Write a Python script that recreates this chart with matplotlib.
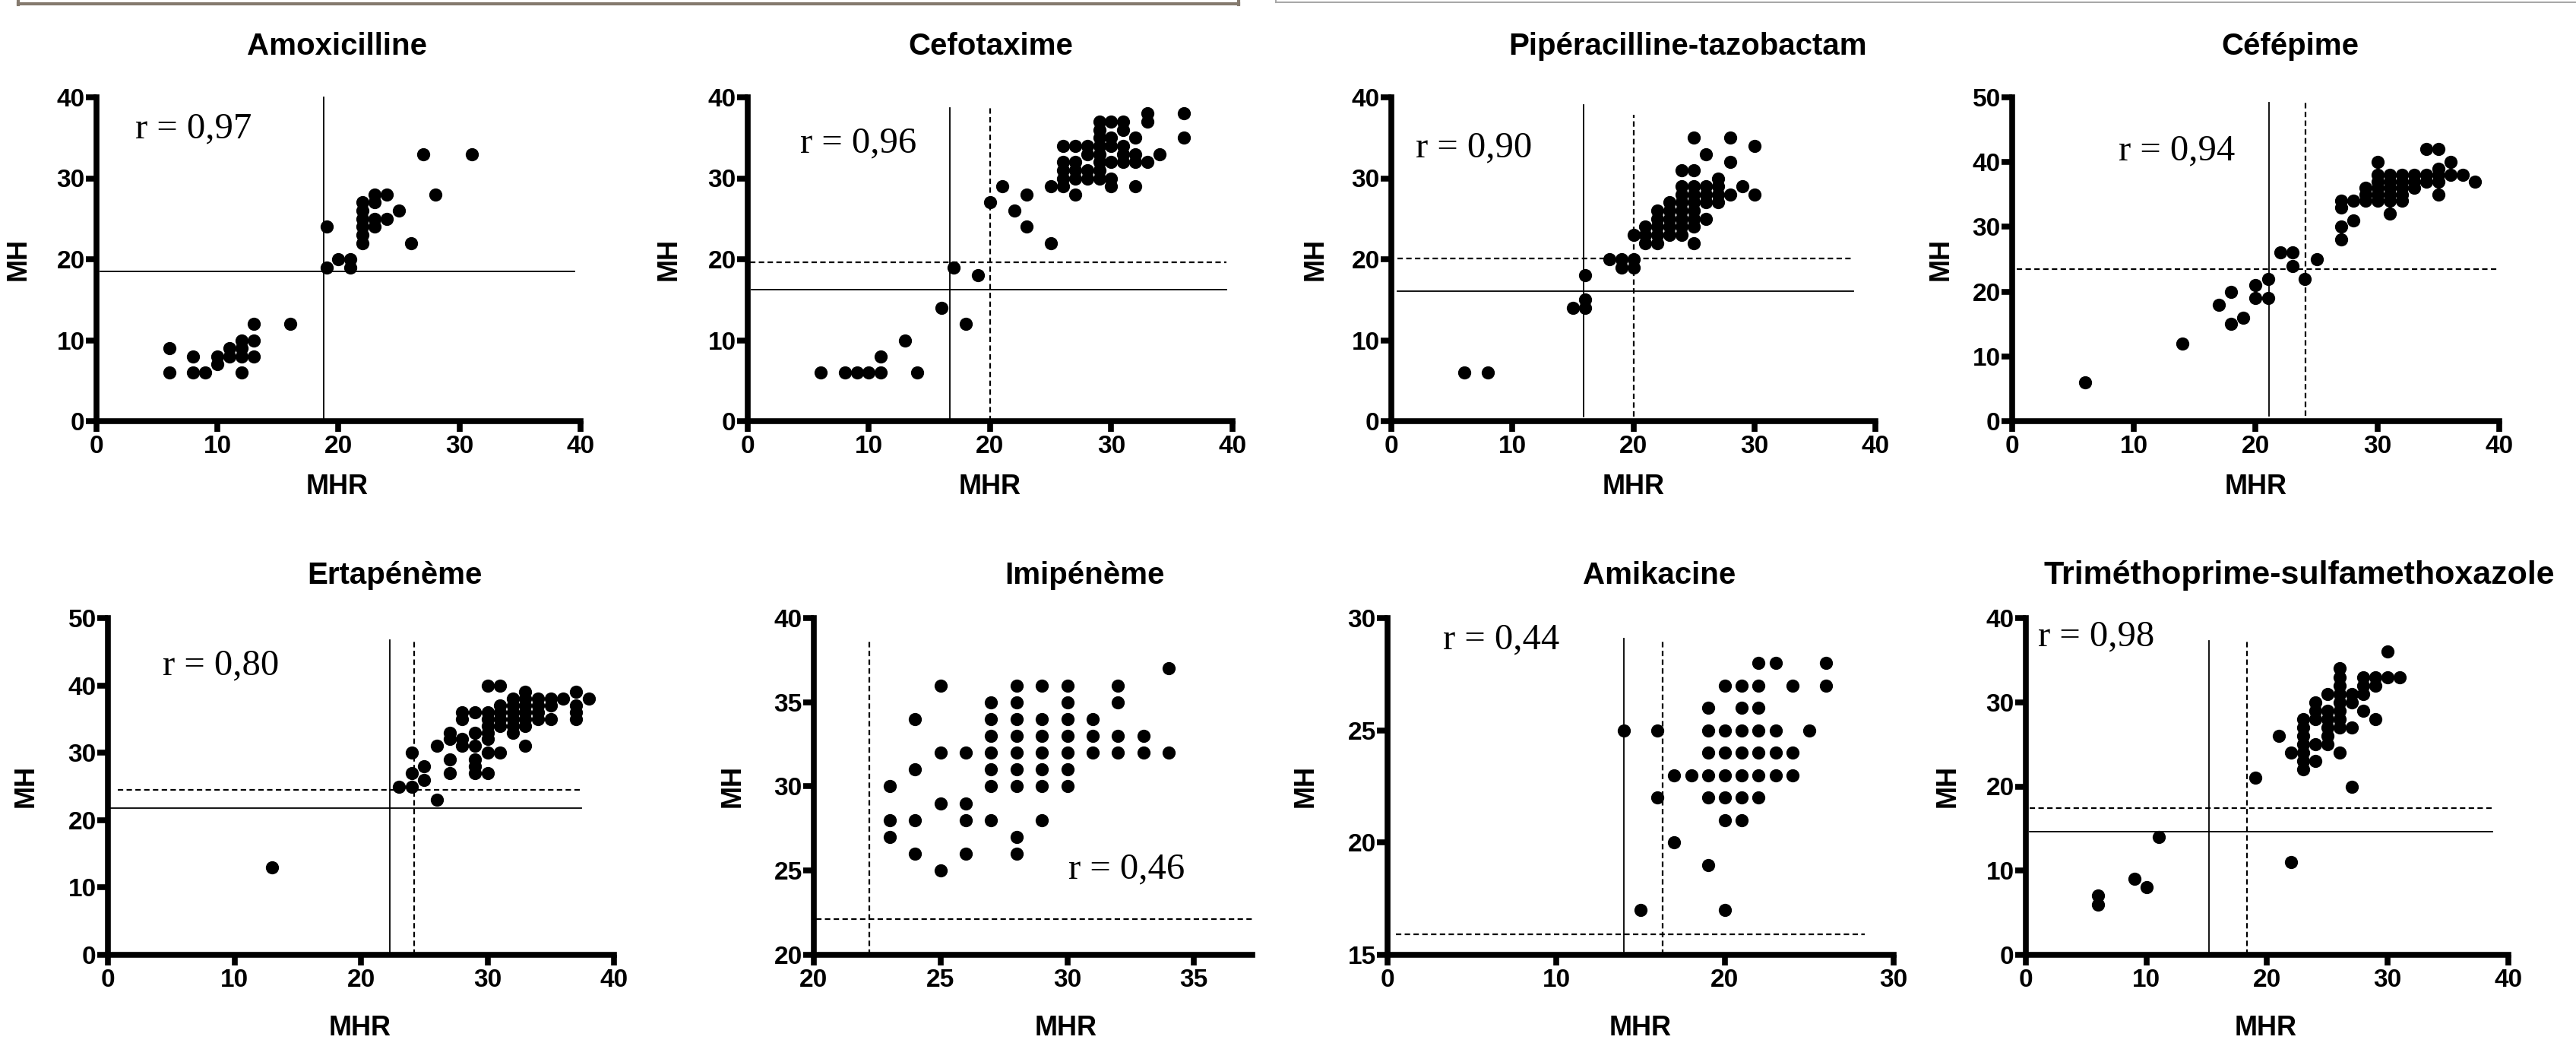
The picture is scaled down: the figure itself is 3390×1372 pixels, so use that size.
import matplotlib
matplotlib.use("Agg")
import matplotlib.pyplot as plt
from matplotlib.lines import Line2D

plt.rcParams['font.family'] = ['Liberation Sans', 'DejaVu Sans']

W, H = 3391, 1372

# ---------------- data (MHR = x, MH = y) ----------------
amox_mhr = [6, 6, 8, 8, 9, 10, 10, 11, 11, 12, 12, 12, 12, 13, 13, 13, 16, 19, 19, 20, 21, 21,
            22, 22, 22, 22, 22, 22, 23, 23, 23, 23, 24, 24, 25, 26, 27, 28, 31]
amox_mh = [9, 6, 8, 6, 6, 8, 7, 9, 8, 10, 9, 8, 6, 12, 10, 8, 12, 24, 19, 20, 20, 19,
           27, 26, 25, 24, 23, 22, 28, 27, 25, 24, 28, 25, 26, 22, 33, 28, 33]

cefo_mhr = [6, 8, 9, 10, 11, 11, 13, 14, 16, 17, 18, 19, 20, 21, 22, 23, 23, 25, 25,
            26, 26, 26, 26, 26, 27, 27, 27, 27, 27, 28, 28, 28, 28,
            29, 29, 29, 29, 29, 29, 29, 29, 30, 30, 30, 30, 30, 30,
            31, 31, 31, 31, 31, 32, 32, 32, 32, 33, 33, 33, 34, 36, 36]
cefo_mh = [6, 6, 6, 6, 6, 8, 10, 6, 14, 19, 12, 18, 27, 29, 26, 28, 24, 29, 22,
           34, 32, 31, 30, 29, 34, 32, 31, 30, 28, 34, 33, 31, 30,
           37, 36, 35, 34, 33, 32, 31, 30, 37, 35, 34, 32, 30, 29,
           37, 36, 34, 33, 32, 35, 33, 32, 29, 38, 37, 32, 33, 38, 35]

pip_mhr = [6, 8, 15, 16, 16, 16, 18, 19, 19, 20, 20, 20,
           21, 21, 21, 22, 22, 22, 22, 22, 23, 23, 23, 23, 23,
           24, 24, 24, 24, 24, 24, 24, 24, 25, 25, 25, 25, 25, 25, 25, 25, 25,
           26, 26, 26, 26, 26, 27, 27, 27, 27, 28, 28, 28, 29, 30, 30]
pip_mh = [6, 6, 14, 18, 15, 14, 20, 20, 19, 20, 19, 23,
          24, 23, 22, 26, 25, 24, 23, 22, 27, 26, 25, 24, 23,
          31, 29, 28, 27, 26, 25, 24, 23, 35, 31, 29, 28, 27, 26, 25, 24, 22,
          33, 29, 28, 27, 25, 30, 29, 28, 27, 35, 32, 28, 29, 34, 28]

cefe_mhr = [6, 14, 17, 18, 18, 19, 20, 20, 21, 21, 22, 23, 23, 24, 25,
            27, 27, 27, 27, 28, 28, 29, 29, 29, 30, 30, 30, 30, 30, 30,
            31, 31, 31, 31, 31, 31, 32, 32, 32, 32, 32, 33, 33, 33, 34, 34, 34,
            35, 35, 35, 35, 35, 36, 36, 37, 38]
cefe_mh = [6, 12, 18, 20, 15, 16, 21, 19, 22, 19, 26, 26, 24, 22, 25,
           34, 33, 30, 28, 34, 31, 36, 35, 34, 40, 38, 37, 36, 35, 34,
           38, 37, 36, 35, 34, 32, 38, 37, 36, 35, 34, 38, 37, 36, 42, 38, 37,
           42, 39, 38, 37, 35, 40, 38, 38, 37]

erta_mhr = [13, 23, 24, 24, 24, 25, 25, 26, 26, 27, 27, 27, 27, 28, 28, 28, 28,
            29, 29, 29, 29, 29, 29, 30, 30, 30, 30, 30, 30, 30, 30,
            31, 31, 31, 31, 31, 31, 32, 32, 32, 32, 32, 32,
            33, 33, 33, 33, 33, 33, 33, 34, 34, 34, 34, 35, 35, 35, 36,
            37, 37, 37, 37, 38]
erta_mh = [13, 25, 30, 27, 25, 28, 26, 31, 23, 33, 32, 29, 27, 36, 35, 32, 31,
           36, 33, 31, 29, 28, 27, 40, 36, 35, 34, 33, 32, 30, 27,
           40, 37, 36, 35, 34, 30, 38, 37, 36, 35, 34, 33,
           39, 38, 37, 36, 35, 34, 31, 38, 37, 36, 35, 38, 37, 35, 38,
           39, 37, 36, 35, 38]

imi_mhr = [23, 23, 23, 24, 24, 24, 24, 25, 25, 25, 25, 26, 26, 26, 26,
           27, 27, 27, 27, 27, 27, 27, 28, 28, 28, 28, 28, 28, 28, 28, 28,
           29, 29, 29, 29, 29, 29, 29, 30, 30, 30, 30, 30, 30, 30,
           31, 31, 31, 32, 32, 32, 32, 33, 33, 34, 34]
imi_mh = [30, 28, 27, 34, 31, 28, 26, 36, 32, 29, 25, 32, 29, 28, 26,
          35, 34, 33, 32, 31, 30, 28, 36, 35, 34, 33, 32, 31, 30, 27, 26,
          36, 34, 33, 32, 31, 30, 28, 36, 35, 34, 33, 32, 31, 30,
          34, 33, 32, 36, 35, 33, 32, 33, 32, 37, 32]

amik_mhr = [14, 15, 16, 16, 17, 17, 18, 19, 19, 19, 19, 19, 19,
            20, 20, 20, 20, 20, 20, 20, 21, 21, 21, 21, 21, 21, 21,
            22, 22, 22, 22, 22, 22, 22, 23, 23, 23, 23, 24, 24, 24, 25, 26, 26]
amik_mh = [25, 17, 25, 22, 23, 20, 23, 26, 25, 24, 23, 22, 19,
           27, 25, 24, 23, 22, 21, 17, 27, 26, 25, 24, 23, 22, 21,
           28, 27, 26, 25, 24, 23, 22, 28, 25, 24, 23, 27, 24, 23, 25, 28, 27]

trim_mhr = [6, 6, 9, 10, 11, 19, 21, 22, 22, 23, 23, 23, 23, 23, 23, 23,
            24, 24, 24, 24, 24, 25, 25, 25, 25, 25, 25,
            26, 26, 26, 26, 26, 26, 26, 26, 26, 27, 27, 27, 27,
            28, 28, 28, 28, 29, 29, 29, 30, 30, 31]
trim_mh = [7, 6, 9, 8, 14, 21, 26, 24, 11, 28, 27, 26, 25, 24, 23, 22,
           30, 29, 28, 25, 23, 31, 29, 28, 27, 26, 25,
           34, 33, 32, 31, 30, 29, 28, 27, 24, 31, 30, 27, 20,
           33, 32, 31, 29, 33, 32, 28, 36, 33, 33]

titles = ["Amoxicilline", "Cefotaxime", "Pipéracilline-tazobactam", "Céfépime",
          "Ertapénème", "Imipénème", "Amikacine", "Triméthoprime-sulfamethoxazole"]
r_labels = ["r = 0,97", "r = 0,96", "r = 0,90", "r = 0,94",
            "r = 0,80", "r = 0,46", "r = 0,44", "r = 0,98"]

# breakpoint lines: (orientation, value, start, end, style)
amox_lines = [("v", 18.8, 0, 40, "-"), ("h", 18.5, 0.3, 39.5, "-")]
cefo_lines = [("v", 16.7, 0, 38.7, "-"), ("v", 20.0, 0, 38.7, "--"),
              ("h", 19.6, 0.2, 39.5, "--"), ("h", 16.2, 0.3, 39.5, "-")]
pip_lines = [("v", 15.9, 0.6, 39.1, "-"), ("v", 20.0, 0.6, 37.8, "--"),
             ("h", 20.1, 0.5, 38.2, "--"), ("h", 16.05, 0.5, 38.2, "-")]
cefe_lines = [("v", 21.1, 0.8, 49.2, "-"), ("v", 24.1, 0.8, 49.2, "--"),
              ("h", 23.5, 0.4, 39.8, "--")]
erta_lines = [("v", 22.3, 0, 46.7, "-"), ("v", 24.2, 0, 46.7, "--"),
              ("h", 24.5, 0.8, 37.4, "--"), ("h", 21.8, 0, 37.4, "-")]
imi_lines = [("v", 22.2, 20, 38.7, "--"), ("h", 22.1, 20.1, 37.3, "--")]
amik_lines = [("v", 14.0, 15.15, 29.1, "-"), ("v", 16.3, 15, 29.05, "--"),
              ("h", 15.9, 0.5, 28.3, "--")]
trim_lines = [("v", 15.2, 0, 37.3, "-"), ("v", 18.3, 0, 37.2, "--"),
              ("h", 17.4, 0.3, 38.7, "--"), ("h", 14.6, 0.3, 38.7, "-")]

# ---------------- layout (pixel positions in the 3391x1372 canvas) ----------------
panels = [
    dict(x=amox_mhr, y=amox_mh, lines=amox_lines, box=(127, 764, 128, 554),
         xlim=(0, 40), ylim=(0, 40), xt=[0, 10, 20, 30, 40], yt=[0, 10, 20, 30, 40],
         rpos=(3.2, 36.1), tpos=(444, 61, "center", 29), mh=24, mhr=(444, 641)),
    dict(x=cefo_mhr, y=cefo_mh, lines=cefo_lines, box=(984, 1622, 128, 554),
         xlim=(0, 40), ylim=(0, 40), xt=[0, 10, 20, 30, 40], yt=[0, 10, 20, 30, 40],
         rpos=(4.3, 34.3), tpos=(1304, 61, "center", 29), mh=880, mhr=(1303, 641)),
    dict(x=pip_mhr, y=pip_mh, lines=pip_lines, box=(1831, 2468, 128, 554),
         xlim=(0, 40), ylim=(0, 40), xt=[0, 10, 20, 30, 40], yt=[0, 10, 20, 30, 40],
         rpos=(2.0, 33.8), tpos=(2221, 61, "center", 29), mh=1731, mhr=(2150, 641)),
    dict(x=cefe_mhr, y=cefe_mh, lines=cefe_lines, box=(2648, 3289, 128, 554),
         xlim=(0, 40), ylim=(0, 50), xt=[0, 10, 20, 30, 40], yt=[0, 10, 20, 30, 40, 50],
         rpos=(8.75, 41.7), tpos=(3014, 61, "center", 29), mh=2554, mhr=(2969, 641)),
    dict(x=erta_mhr, y=erta_mh, lines=erta_lines, box=(142, 808, 813, 1256),
         xlim=(0, 40), ylim=(0, 50), xt=[0, 10, 20, 30, 40], yt=[0, 10, 20, 30, 40, 50],
         rpos=(4.3, 42.9), tpos=(519, 757, "center", 29), mh=34, mhr=(474, 1352)),
    dict(x=imi_mhr, y=imi_mh, lines=imi_lines, box=(1071, 1648, 813, 1256),
         xlim=(20, 37.3), ylim=(20, 40), xt=[20, 25, 30, 35], yt=[20, 25, 30, 35, 40],
         rpos=(30.05, 25.1), tpos=(1427, 757, "center", 29), mh=964, mhr=(1403, 1352)),
    dict(x=amik_mhr, y=amik_mh, lines=amik_lines, box=(1826, 2492, 813, 1256),
         xlim=(0, 30), ylim=(15, 30), xt=[0, 10, 20, 30], yt=[15, 20, 25, 30],
         rpos=(3.3, 29.05), tpos=(2184, 757, "center", 29), mh=1718, mhr=(2159, 1352)),
    dict(x=trim_mhr, y=trim_mh, lines=trim_lines, box=(2666, 3301, 813, 1256),
         xlim=(0, 40), ylim=(0, 40), xt=[0, 10, 20, 30, 40], yt=[0, 10, 20, 30, 40],
         rpos=(1.0, 37.8), tpos=(2690, 757, "left", 31), mh=2563, mhr=(2982, 1352)),
]

fig = plt.figure(figsize=(W / 100, H / 100), dpi=100)


def fx(px):
    return px / W


def fy(py):
    return 1 - py / H


for i, p in enumerate(panels):
    left, right, top, bottom = p["box"]
    ax = fig.add_axes([fx(left), fy(bottom), fx(right) - fx(left), fy(top) - fy(bottom)])

    ax.scatter(p["x"], p["y"], s=155, color="black", linewidths=0, zorder=3, clip_on=False)

    for kind, val, a, b, style in p["lines"]:
        dash = (0, (3.2, 2)) if style == "--" else "-"
        lw = 1.6 if style == "--" else 1.3
        if kind == "v":
            ax.plot([val, val], [a, b], color="black", lw=lw, linestyle=dash, clip_on=False)
        else:
            ax.plot([a, b], [val, val], color="black", lw=lw, linestyle=dash, clip_on=False)

    ax.text(p["rpos"][0], p["rpos"][1], r_labels[i], ha="left", va="center",
            family=["Liberation Serif", "DejaVu Serif"], fontsize=35)

    ax.set_xlim(*p["xlim"])
    ax.set_ylim(*p["ylim"])
    ax.set_xticks(p["xt"])
    ax.set_yticks(p["yt"])
    for side in ["top", "right"]:
        ax.spines[side].set_visible(False)
    for side in ["left", "bottom"]:
        ax.spines[side].set_linewidth(5.5)
        ax.spines[side].set_capstyle("projecting")
    ax.tick_params(axis="both", direction="out", length=10, width=5.5, labelsize=24)
    ax.tick_params(axis="x", pad=3)
    ax.tick_params(axis="y", pad=1)
    for lab in ax.get_xticklabels() + ax.get_yticklabels():
        lab.set_fontweight("bold")
    ax.patch.set_visible(False)

    tx, ty, tha, tsize = p["tpos"]
    fig.text(fx(tx), fy(ty), titles[i], ha=tha, va="center", fontsize=tsize, fontweight="bold")
    fig.text(fx(p["mh"]), fy((top + bottom) / 2), "MH", rotation=90, ha="center",
             va="center", fontsize=26, fontweight="bold")
    fig.text(fx(p["mhr"][0]), fy(p["mhr"][1]), "MHR", ha="center", va="center",
             fontsize=26, fontweight="bold")

# remains of the page frames along the top edge
fig.add_artist(Line2D([fx(24), fx(1630)], [fy(5), fy(5)], lw=3, color="#857a6e"))
fig.add_artist(Line2D([fx(24), fx(24)], [fy(0), fy(6)], lw=3, color="#857a6e"))
fig.add_artist(Line2D([fx(1630), fx(1630)], [fy(0), fy(6)], lw=3, color="#857a6e"))
fig.add_artist(Line2D([fx(1679), fx(3391)], [fy(3), fy(3)], lw=1.5, color="#a8a8a8"))
fig.add_artist(Line2D([fx(1679), fx(1679)], [fy(0), fy(3)], lw=1.5, color="#a8a8a8"))

fig.savefig("out.png", dpi=100)
